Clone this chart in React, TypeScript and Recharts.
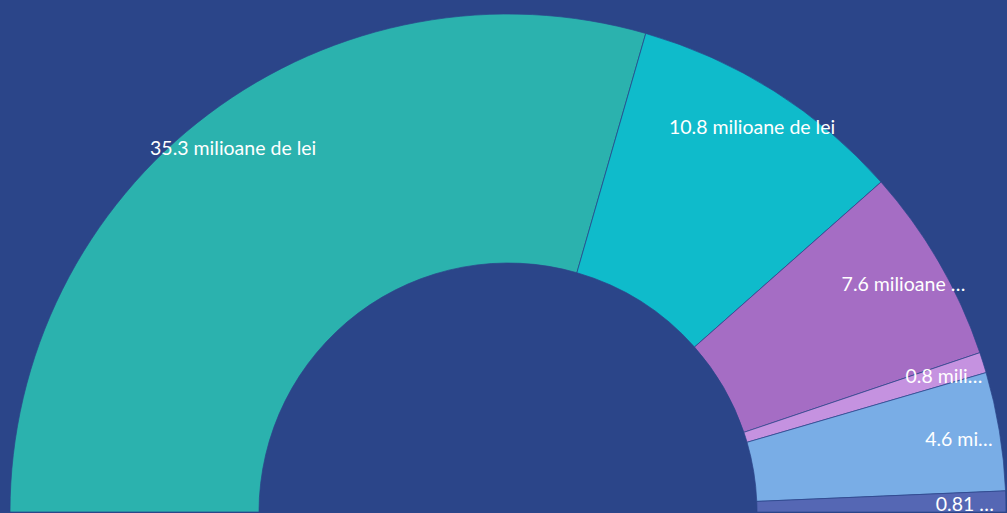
import { Cell, Pie, PieChart } from "recharts";

const categories = ["a", "b", "c", "d", "e", "f"];
const values = [35.3, 10.8, 7.6, 0.8, 4.6, 0.81];
const labels = [
  "35.3 milioane de lei",
  "10.8 milioane de lei",
  "7.6 milioane …",
  "0.8 mili…",
  "4.6 mi…",
  "0.81 …",
];

const COLORS = ["#2bb2ae", "#0fbbcb", "#a56dc4", "#c592e0", "#79ade6", "#5567b4"];
const BG = "#2b4589";
const RADIAN = Math.PI / 180;

const data = categories.map((name, i) => ({ name, value: values[i], label: labels[i] }));

const renderLabel = (props: any) => {
  const { cx, cy, midAngle, index } = props;
  const r = 457;
  const x = cx + r * Math.cos(-midAngle * RADIAN);
  const y = cy + r * Math.sin(-midAngle * RADIAN);
  return (
    <text
      x={x}
      y={y + 1}
      fill="#ffffff"
      textAnchor="middle"
      dominantBaseline="central"
      fontFamily="Lato, sans-serif"
      fontSize={19.5}
    >
      {labels[index]}
    </text>
  );
};

export default function App() {
  return (
    <div style={{ position: "fixed", left: 0, top: 0, width: 1007, height: 513, background: BG, overflow: "hidden" }}>
      <PieChart width={1007} height={513} margin={{ top: 0, right: 0, bottom: 0, left: 0 }}>
        <Pie
          data={data}
          dataKey="value"
          nameKey="name"
          cx={508}
          cy={512}
          startAngle={180}
          endAngle={0}
          innerRadius={249}
          outerRadius={498}
          stroke={BG}
          strokeWidth={0.7}
          label={renderLabel}
          labelLine={false}
          isAnimationActive={false}
        >
          {data.map((d, i) => (
            <Cell key={d.name} fill={COLORS[i]} />
          ))}
        </Pie>
      </PieChart>
    </div>
  );
}
